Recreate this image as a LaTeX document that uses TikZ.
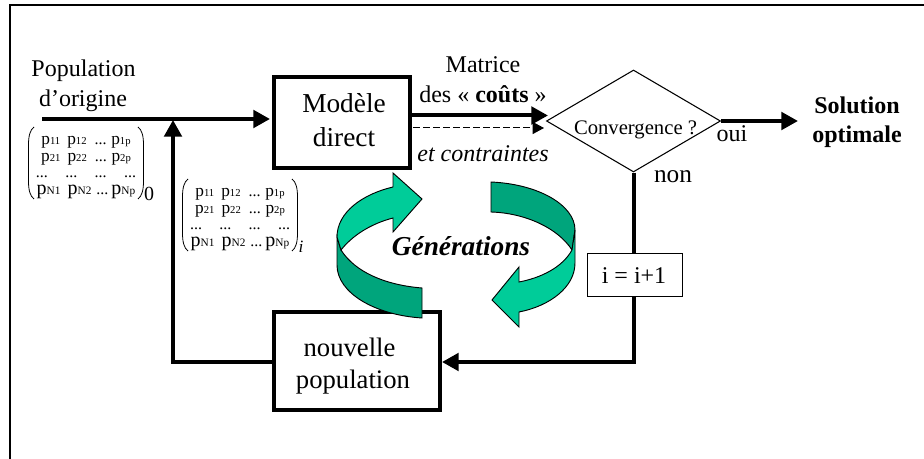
\documentclass[tikz,border=0pt]{standalone}
\usepackage{fontspec}
\setmainfont{Liberation Serif}
\usetikzlibrary{arrows.meta,shapes.geometric,calc}
\definecolor{lightgreen}{HTML}{00CC99}
\definecolor{darkgreen}{HTML}{00A57C}
\newcommand{\fs}[1]{\fontsize{#1}{#1}\selectfont}
\newcommand{\pe}[1]{{\fs{13}p\fs{8}#1}}
\newcommand{\pf}[1]{{\fs{15}p\fs{8.5}#1}}
\newcommand{\dd}{{\fs{12}...}}
\newcommand{\popmat}[3]{%
  \node[rowtxt] (#1a) at (#2,#3) {\pe{11}\hspace{5.25pt}\pe{12}\hspace{6pt}\dd\hspace{3.5pt}\pe{1p}};
  \node[rowtxt] (#1b) at (#2,#3+17) {\pe{21}\hspace{5.25pt}\pe{22}\hspace{6pt}\dd\hspace{3.5pt}\pe{2p}};
  \node[rowtxt] (#1c) at (#2,#3+33) {\dd\hspace{13pt}\dd\hspace{13pt}\dd\hspace{13pt}\dd};
  \node[rowtxt] (#1d) at (#2,#3+50) {\pf{N1}\hspace{5.25pt}\pf{N2}\hspace{3.75pt}\dd\hspace{2.25pt}\pf{Np}};
  \draw[line width=.6pt] ($(#2,#3)+(-52,-18)$) .. controls ($(#2,#3)+(-56,-15)$) and ($(#2,#3)+(-57.5,-9)$) .. ($(#2,#3)+(-57.5,0)$) -- ($(#2,#3)+(-57.5,36)$) .. controls ($(#2,#3)+(-57.5,45)$) and ($(#2,#3)+(-56,51)$) .. ($(#2,#3)+(-52,54)$);
  \draw[line width=.6pt] ($(#2,#3)+(52,-18)$) .. controls ($(#2,#3)+(56,-15)$) and ($(#2,#3)+(57.5,-9)$) .. ($(#2,#3)+(57.5,0)$) -- ($(#2,#3)+(57.5,36)$) .. controls ($(#2,#3)+(57.5,45)$) and ($(#2,#3)+(56,51)$) .. ($(#2,#3)+(52,54)$);
}
\begin{document}
\begin{tikzpicture}[x=0.75pt,y=-0.75pt,
  txt/.style={inner sep=0pt,anchor=base,font=\fs{18}},
  rowtxt/.style={inner sep=0pt,anchor=base},
  heavy/.style={line width=3pt},
  tip/.style={-{Triangle[length=12.5pt,width=13pt]}},
  curl/.style={draw=black,line width=.7pt,line join=miter}]
\useasboundingbox (0,0) rectangle (924,459);
\fill[white] (0,0) rectangle (924,459);
% frame
\coordinate (fa) at (924,5.5); \coordinate (fb) at (10,5.5); \coordinate (fc) at (10,459);
\draw[line width=1.5pt] (fa) -- (fb) -- (fc);
% boxes
\node[draw,line width=3pt,minimum width=102pt,minimum height=68pt,inner sep=0pt] (model) at (341.5,122.75) {};
\node[draw,line width=3pt,minimum width=124.5pt,minimum height=73.5pt,inner sep=0pt] (newpop) at (357,361) {};
\node[txt,font=\fs{20.5}] (t1) at (344,113) {Modèle};
\node[txt,font=\fs{20.5}] (t2) at (344,147) {direct};
\node[txt,font=\fs{20}] (t3) at (349.5,357) {nouvelle};
\node[txt,font=\fs{20}] (t4) at (353,388) {population};
\node[diamond,draw,line width=.8pt,inner sep=0pt,minimum width=130.5pt,minimum height=76.5pt] (conv) at (633.5,121) {};
\node[txt,font=\fs{15.5}] (t5) at (635.5,135) {Convergence ?};
\node[draw,line width=.8pt,fill=white,minimum width=71pt,minimum height=32.5pt,inner sep=0pt] (incr) at (635,275) {};
% connectors
\coordinate (inS) at (42,119);
\coordinate (inE) at (270,119);
\coordinate (fbC) at (173,362);
\coordinate (fbE) at (173,120);
\coordinate (mS) at (411,115.5);
\coordinate (mE) at (548,115.5);
\coordinate (dS) at (413,128);
\coordinate (dE) at (544,128);
\coordinate (ouiE) at (798,121);
\coordinate (nonC) at (633.5,362);
\draw[heavy,tip] (inS) -- (inE);
\draw[heavy,tip] (newpop.west |- fbC) -- (fbC) -- (fbE);
\draw[heavy,tip] (mS) -- (mE);
\draw[line width=.75pt,dash pattern=on 5pt off 2.5pt,-{Triangle[length=8.5pt,width=9pt]}] (dS) -- (dE);
\draw[heavy,tip] (conv.east) -- (ouiE);
\draw[heavy] (conv.south) -- (conv.south |- incr.north);
\draw[heavy,tip] (conv.south |- incr.south) -- (nonC) -- (newpop.east |- nonC);
% texts
\node[txt] (t6) at (83.5,77) {Population};
\node[txt] (t7) at (83,107) {d’origine};
\node[txt] (t8) at (483,73) {Matrice};
\node[txt] (t9) at (483,103) {des « \textbf{coûts} »};
\node[txt] (t10) at (483,162) {\textit{et contraintes}};
\node[txt] (t11) at (732,142) {oui};
\node[txt,font=\fs{19}] (t12) at (673,183) {non};
\node[txt] (t13) at (857,114) {\textbf{Solution}};
\node[txt] (t14) at (857,143) {\textbf{optimale}};
\node[txt] (t15) at (634,284) {i = i+1};
\node[txt,font=\fs{20.5}] (t16) at (461,256) {\textbf{\textit{Générations}}};
% matrices
\popmat{A}{86}{145}
\node[txt,font=\fs{15}] (t17) at (149,201) {0};
\popmat{B}{240}{197}
\node[txt,font=\fs{13}\itshape] (t18) at (301,253) {i};
% curved arrows
\filldraw[curl,fill=darkgreen] (337,237) -- (337,265) .. controls (337,293) and (375,315) .. (422,318) -- (422,288) .. controls (385,285) and (355,272) .. (341,250) -- cycle;
\filldraw[curl,fill=lightgreen] (341,250) .. controls (352,236) and (370,224) .. (393,218) -- (393,232) -- (422,199) -- (393,173) -- (393,187) .. controls (363,194) and (337,212) .. (337,237) -- cycle;
\filldraw[curl,fill=darkgreen] (491,182) .. controls (538,184) and (575,205) .. (575,230) -- (572,250) .. controls (558,228) and (525,213) .. (491,212) -- cycle;
\filldraw[curl,fill=lightgreen] (572,250) .. controls (562,268) and (540,278) .. (519,282) -- (519,267) -- (492,300) -- (519,327) -- (519,312) .. controls (550,306) and (575,287) .. (575,263) -- (575,230) -- cycle;
\end{tikzpicture}
\end{document}
